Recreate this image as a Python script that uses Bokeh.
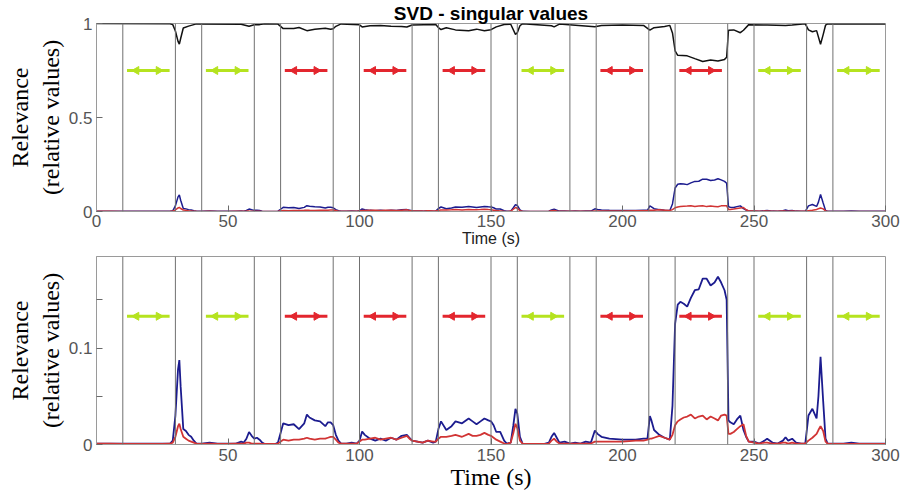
import numpy as np
from bokeh.plotting import figure
from bokeh.layouts import column
from bokeh.models import Range1d, FixedTicker, Span
from bokeh.embed import file_html
from bokeh.resources import INLINE

# ---------------- data ----------------
t = [0, 5, 10, 15, 20, 25, 28, 29, 30, 31, 31.5, 32, 33, 34, 35, 36, 37, 38, 40, 43, 46, 50, 53, 55, 56, 57, 58, 59, 60,
     61, 62, 63, 64, 66, 68, 69, 70, 71, 73, 75, 77, 79, 80, 81, 83, 85, 87, 88, 89, 90, 91, 92, 93, 95, 97, 99, 100,
     101, 102, 104, 106, 108, 110, 112, 114, 116, 118, 119, 120, 122, 124, 126, 128, 129, 130, 131, 133, 135, 136.5,
     139, 141.5, 143, 144.5, 146, 147.5, 149, 150, 151, 152, 153.5, 155, 156, 157.5, 158.5, 159.3, 160, 161, 162, 165,
     170, 172, 173, 174, 175, 176, 178, 180, 182, 184, 186, 188, 189.5, 190.5, 192, 195, 200, 205, 208, 209.5, 210.4,
     211, 212, 214, 216, 218, 219, 220, 221, 222, 223.3, 224.6, 226, 227.5, 229, 230.5, 232, 233.5, 235, 236.3, 237.5,
     238.8, 239.6, 240.3, 241, 242.3, 243.5, 244.8, 246, 247, 248, 250, 252, 254, 255, 257, 259, 261, 262, 263, 264.5,
     266, 268, 269.5, 270.7, 272.2, 273.8, 274.5, 275.3, 276.3, 277.2, 278, 280, 284, 287, 290, 295, 300]

second_sv = [0.001, 0.001, 0.0008, 0.0008, 0.0008, 0.0008, 0.001, 0.004, 0.03, 0.078, 0.0875, 0.06, 0.016, 0.014, 0.01,
             0.008, 0.004, 0.001, 0.0008, 0.002, 0.001, 0.0008, 0.001, 0.003, 0.002, 0.006, 0.013, 0.009, 0.006,
             0.007, 0.005, 0.002, 0.0005, 0.0005, 0.0005, 0.002, 0.012, 0.022, 0.02, 0.021, 0.016, 0.022, 0.031,
             0.028, 0.025, 0.024, 0.019, 0.023, 0.023, 0.02, 0.01, 0.004, 0.001, 0.001, 0.002, 0.001, 0.004,
             0.0135, 0.01, 0.006, 0.004, 0.006, 0.004, 0.007, 0.005, 0.009, 0.01, 0.007, 0.004, 0.003, 0.002, 0.004,
             0.002, 0.003, 0.016, 0.024, 0.015, 0.019, 0.024, 0.022, 0.027, 0.024, 0.021, 0.024, 0.027, 0.025, 0.024,
             0.02, 0.013, 0.013, 0.004, 0.001, 0.002, 0.02, 0.037, 0.032, 0.008, 0.001, 0.0005, 0.0005, 0.002, 0.008,
             0.012, 0.007, 0.002, 0.003, 0.001, 0.002, 0.001, 0.003, 0.002, 0.0145, 0.011, 0.008, 0.006, 0.005, 0.005,
             0.006, 0.006, 0.0295, 0.025, 0.015, 0.01, 0.007, 0.005, 0.04, 0.125, 0.145, 0.148, 0.146, 0.143, 0.152,
             0.16, 0.161, 0.172, 0.172, 0.165, 0.168, 0.174, 0.168, 0.16, 0.15, 0.025, 0.023, 0.021, 0.026, 0.03,
             0.015, 0.008, 0.003, 0.003, 0.001, 0.004, 0.006, 0.002, 0.001, 0.004, 0.0075, 0.004, 0.006, 0.002, 0.001,
             0.001, 0.03, 0.037, 0.027, 0.05, 0.091, 0.045, 0.006, 0.001, 0.001, 0.001, 0.002, 0.001, 0.001, 0.001]

third_sv = [0.0008, 0.0008, 0.0005, 0.0005, 0.0005, 0.0005, 0.0008, 0.002, 0.008, 0.019, 0.0215, 0.016, 0.008, 0.006,
            0.004, 0.003, 0.002, 0.001, 0.0005, 0.001, 0.0005, 0.0005, 0.0008, 0.001, 0.001, 0.002, 0.002, 0.001,
            0.001, 0.001, 0.001, 0.0005, 0.0005, 0.0005, 0.0005, 0.001, 0.003, 0.005, 0.004, 0.005, 0.005, 0.006,
            0.007, 0.006, 0.005, 0.006, 0.006, 0.007, 0.008, 0.008, 0.005, 0.002, 0.001, 0.0008, 0.001, 0.001, 0.003,
            0.005, 0.005, 0.006, 0.007, 0.005, 0.006, 0.007, 0.005, 0.007, 0.009, 0.006, 0.004, 0.003, 0.002, 0.004,
            0.003, 0.003, 0.006, 0.008, 0.008, 0.009, 0.01, 0.008, 0.011, 0.009, 0.009, 0.01, 0.012, 0.01, 0.009,
            0.007, 0.005, 0.003, 0.001, 0.0005, 0.002, 0.012, 0.0215, 0.017, 0.004, 0.001, 0.0005, 0.0005, 0.001,
            0.004, 0.006, 0.003, 0.001, 0.001, 0.001, 0.001, 0.001, 0.001, 0.001, 0.003, 0.003, 0.003, 0.003, 0.003,
            0.004, 0.004, 0.005, 0.006, 0.006, 0.007, 0.009, 0.007, 0.005, 0.01, 0.02, 0.024, 0.026, 0.028, 0.029,
            0.031, 0.027, 0.029, 0.03, 0.026, 0.029, 0.027, 0.025, 0.03, 0.031, 0.03, 0.011, 0.011, 0.013, 0.016,
            0.019, 0.021, 0.009, 0.003, 0.002, 0.001, 0.002, 0.002, 0.001, 0.001, 0.002, 0.002, 0.001, 0.002, 0.001,
            0.001, 0.001, 0.004, 0.007, 0.011, 0.015, 0.019, 0.014, 0.003, 0.001, 0.0005, 0.0005, 0.0005, 0.0005,
            0.0005, 0.0005]

t_first = [0, 28, 29, 30, 31, 31.5, 32, 33, 35, 37, 38, 55, 58, 60, 62, 64, 69, 70, 71, 75, 77, 80, 83, 87, 89, 90, 91,
           93, 100, 101, 104, 108, 112, 116, 118, 120, 129, 130, 131, 133, 136.5, 141.5, 144.5, 147.5, 150, 152, 155,
           157.5, 159.3, 160, 161, 162, 173, 174, 176, 189.5, 192, 200, 208, 210.4, 212, 216, 218, 219, 220, 221,
           224.6, 227.5, 230.5, 233.5, 236.3, 238.8, 239.6, 240.3, 242.3, 244.8, 246, 248, 255, 262, 264.5, 269.5,
           270.7, 272.2, 273.8, 275.3, 276.3, 277.2, 278, 300]
first_sv = [1.0, 0.999, 0.994, 0.96, 0.905, 0.89, 0.92, 0.976, 0.986, 0.994, 0.998, 0.996, 0.985, 0.993, 0.994, 0.999,
            0.997, 0.985, 0.973, 0.974, 0.979, 0.962, 0.969, 0.975, 0.969, 0.972, 0.985, 0.998, 0.993, 0.982, 0.988,
            0.989, 0.986, 0.984, 0.981, 0.992, 0.995, 0.978, 0.968, 0.977, 0.966, 0.962, 0.97, 0.961, 0.967, 0.982,
            0.995, 0.996, 0.942, 0.951, 0.988, 0.999, 0.988, 0.982, 0.997, 0.983, 0.989, 0.992, 0.99, 0.965, 0.978,
            0.984, 0.99, 0.95, 0.855, 0.831, 0.828, 0.813, 0.798, 0.806, 0.801, 0.809, 0.82, 0.964, 0.966, 0.951,
            0.964, 0.994, 0.992, 0.99, 0.992, 0.998, 0.966, 0.956, 0.962, 0.89, 0.941, 0.991, 0.998, 0.998]

boundaries = [10, 30, 40, 60, 70, 90, 100, 120, 130, 150, 160, 180, 190, 210, 220, 240, 250, 270, 280]
task_start = [10, 40, 70, 100, 130, 160, 190, 220, 250, 280]
task_end = [30, 60, 90, 120, 150, 180, 210, 240, 270, 300]
task_kind = ["green", "green", "red", "red", "red", "green", "red", "red", "green", "green"]

x_ticks_top = [0, 50, 100, 150, 200, 250, 300]
x_ticks_bottom = [50, 100, 150, 200, 250, 300]
y_ticks_top = [0, 0.5, 1]
y_ticks_bottom = [0, 0.05, 0.1, 0.15]
y_labels_bottom = {0: "0", 0.05: "", 0.1: "0.1", 0.15: ""}

# ---------------- styles ----------------
BLUE = "#1c1c8f"
RED = "#d13434"
BLACK = "#111111"
ARROW_COLORS = {"green": "#b5e31f", "red": "#e3262e"}
FRAME = "#9a9a9a"
TICKLBL = "#555555"


def style_axis(ax):
    ax.axis_line_color = FRAME
    ax.major_tick_line_color = "#6a6a6a"
    ax.major_tick_in = 6
    ax.major_tick_out = 0
    ax.minor_tick_line_color = None
    ax.major_label_text_color = TICKLBL
    ax.major_label_text_font = "Liberation Sans"
    ax.major_label_text_font_size = "17px"
    ax.major_label_standoff = 4


def make_fig(height, ymax, border_top, border_bottom, xt, yt):
    p = figure(width=902, height=height, output_backend="svg", toolbar_location=None,
               x_range=Range1d(0, 300), y_range=Range1d(0, ymax),
               min_border_left=96, min_border_right=17,
               min_border_top=border_top, min_border_bottom=border_bottom)
    p.xgrid.visible = False
    p.ygrid.visible = False
    p.outline_line_color = FRAME
    p.background_fill_color = "white"
    p.border_fill_color = "white"
    xa = p.below[0]
    ya = p.left[0]
    xa.ticker = FixedTicker(ticks=xt)
    ya.ticker = FixedTicker(ticks=yt)
    style_axis(xa)
    style_axis(ya)
    ya.axis_label = "Relevance\n(relative values)"
    ya.axis_label_text_font = "Liberation Serif"
    ya.axis_label_text_font_size = "24px"
    ya.axis_label_text_font_style = "normal"
    ya.axis_label_text_color = "black"
    ya.axis_label_standoff = 2
    for b in boundaries:
        p.add_layout(Span(location=b, dimension="height", line_color="#707070", line_width=1))
    return p, xa, ya


def add_arrows(p, y):
    xs0 = [s + 0.08 * (e - s) for s, e in zip(task_start, task_end)]
    xs1 = [e - 0.11 * (e - s) for s, e in zip(task_start, task_end)]
    hl = [s + 0.26 * (e - s) for s, e in zip(task_start, task_end)]
    hr = [s + 0.68 * (e - s) for s, e in zip(task_start, task_end)]
    cols = [ARROW_COLORS[k] for k in task_kind]
    ys = [y] * len(task_start)
    p.segment(x0=xs0, y0=ys, x1=xs1, y1=ys, line_color=cols, line_width=3)
    p.scatter(x=hl, y=ys, marker="triangle", size=8, angle=np.pi / 2, fill_color=cols, line_color=cols)
    p.scatter(x=hr, y=ys, marker="triangle", size=8, angle=-np.pi / 2, fill_color=cols, line_color=cols)


# ---------------- top figure ----------------
top, top_x, top_y = make_fig(251, 1.0, 23, 40, x_ticks_top, y_ticks_top)
top.title.text = "SVD - singular values"
top.title.align = "center"
top.title.text_font = "Liberation Sans"
top.title.text_font_size = "19px"
top.title.text_font_style = "bold"
top.title.text_color = "black"
top.title.standoff = 0
top_x.axis_label = "Time (s)"
top_x.axis_label_text_font = "Liberation Sans"
top_x.axis_label_text_font_size = "16px"
top_x.axis_label_text_font_style = "normal"
top_x.axis_label_text_color = "#222222"
top_x.axis_label_standoff = 0
top_x.major_label_standoff = 3
add_arrows(top, 0.75)
top.line(t, second_sv, line_color=BLUE, line_width=1.5)
top.line(t, third_sv, line_color=RED, line_width=1.5)
top.line(t_first, first_sv, line_color=BLACK, line_width=1.5)

# ---------------- bottom figure ----------------
bot, bot_x, bot_y = make_fig(249, 0.195, 5, 56, x_ticks_bottom, y_ticks_bottom)
bot_y.major_label_overrides = y_labels_bottom
bot_x.axis_label = "Time (s)"
bot_x.axis_label_text_font = "Liberation Serif"
bot_x.axis_label_text_font_size = "24px"
bot_x.axis_label_text_font_style = "normal"
bot_x.axis_label_text_color = "black"
bot_x.axis_label_standoff = 0
add_arrows(bot, 0.133)
bot.line(t, second_sv, line_color=BLUE, line_width=1.8)
bot.line(t, third_sv, line_color=RED, line_width=1.8)

layout = column(top, bot, spacing=0)
open("out.html", "w").write(file_html(layout, INLINE))
